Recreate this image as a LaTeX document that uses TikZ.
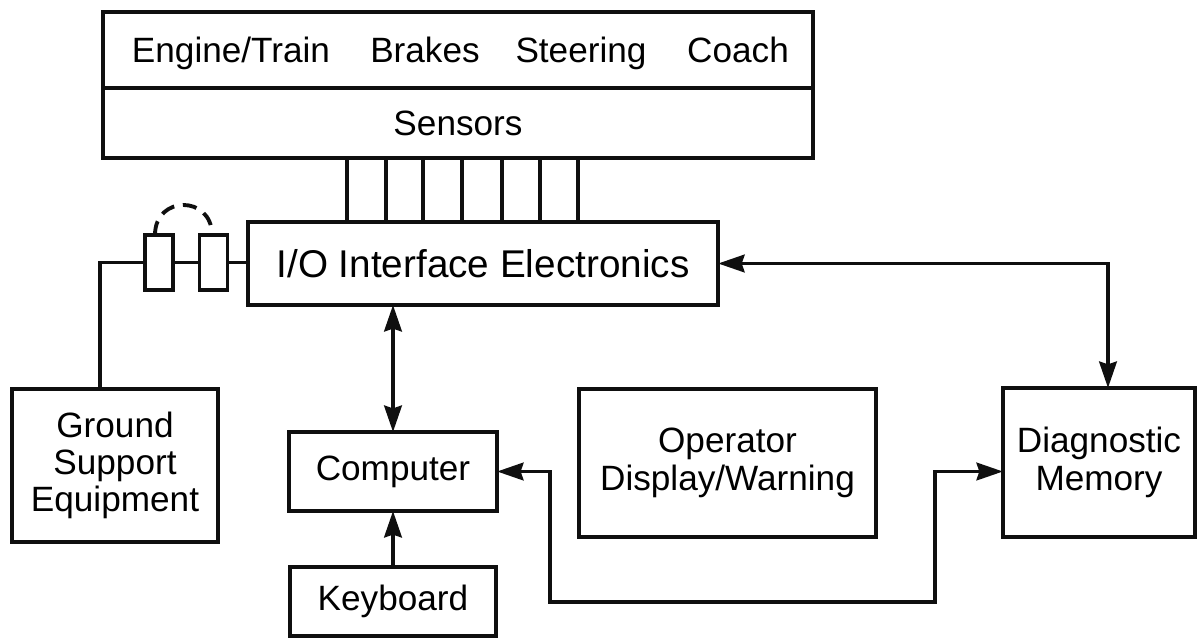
\documentclass[tikz,border=0pt]{standalone}
\usepackage{fontspec}
\setmainfont{Liberation Sans}
\usetikzlibrary{arrows.meta, positioning, calc}
\definecolor{inkblack}{RGB}{15, 15, 15}
\tikzset{
  >=Stealth,
  blockbox/.style={draw=inkblack, line width=1.1pt, inner sep=0pt, outer sep=0pt, align=center, font=\fontsize{10}{10.6}\selectfont},
  plugbox/.style={draw=inkblack, line width=1.1pt, inner sep=0pt, outer sep=0pt, minimum width=0.28cm, minimum height=0.55cm},
  partlabel/.style={anchor=base, inner sep=0pt, font=\fontsize{10}{12}\selectfont},
  wire/.style={draw=inkblack, line width=1.1pt},
  flowarrow/.style={wire, -{Stealth[length=7.5pt, width=5pt, inset=0.8pt]}},
  flowboth/.style={wire, {Stealth[length=7.5pt, width=5pt, inset=0.8pt]}-{Stealth[length=7.5pt, width=5pt, inset=0.8pt]}}
}

\begin{document}
\begin{tikzpicture}[x=0.01cm, y=-0.01cm]
    \useasboundingbox (0,0) rectangle (1199,639);
    % vehicle subsystems over the sensor bank
    \node (parts) [blockbox, minimum width=7.1cm, minimum height=0.76cm] at (458,50) {};
    \node (sensors) [blockbox, minimum width=7.1cm, minimum height=0.70cm, below=0pt of parts] {Sensors};
    \node (engine) [partlabel] at (231,62) {Engine/Train};
    \node (brakes) [partlabel] at (425,62) {Brakes};
    \node (steering) [partlabel] at (581,62) {Steering};
    \node (coach) [partlabel] at (738,62) {Coach};

    \node (io) [blockbox, font=\fontsize{11}{13}\selectfont, minimum width=4.7cm, minimum height=0.83cm] at (483,263.5) {I/O Interface Electronics};
    \foreach \x in {347,386,423,462,502,540,578}
        \draw[wire] (sensors.south -| \x,0) -- (io.north -| \x,0);

    % test plug for the ground equipment
    \node (plugA) [plugbox] at (159,262.5) {};
    \node (plugB) [plugbox] at (213.5,262.5) {};
    \node (ground) [blockbox, minimum width=2.06cm, minimum height=1.53cm] at (115,465.5) {Ground\\Support\\Equipment};

    \node (comp) [blockbox, minimum width=2.08cm, minimum height=0.79cm] at (393,471.5) {Computer};
    \node (keyboard) [blockbox, minimum width=2.06cm, minimum height=0.69cm, below=0.56cm of comp] {Keyboard};
    \node (operator) [blockbox, minimum width=2.97cm, minimum height=1.48cm] at (727.5,463) {Operator\\Display/Warning};
    \node (diag) [blockbox, minimum width=1.92cm, minimum height=1.49cm] at (1099,462.5) {Diagnostic\\Memory};

    \draw[wire] ([xshift=-0.15cm]ground.north) |- (plugA.west);
    \draw[wire] (plugA.east) -- (plugB.west);
    \draw[wire] (plugB.east) -- (plugB.east -| io.west);
    \draw[wire, dash pattern=on 4pt off 2.5pt] ([xshift=-0.04cm]plugA.north) to[out=90, in=90, looseness=1.8] ([xshift=-0.015cm]plugB.north);

    \draw[flowboth] (io.south -| comp.north) -- (comp.north);
    \draw[flowarrow] (keyboard.north) -- (comp.south);
    \draw[flowboth] (io.east) -| ([xshift=0.09cm]diag.north);

    \coordinate (busL) at (550,602);
    \coordinate (busR) at (935,602);
    \draw[flowboth] (comp.east) -| (busL) -- (busR) |- (diag.west |- comp.east);
\end{tikzpicture}
\end{document}
